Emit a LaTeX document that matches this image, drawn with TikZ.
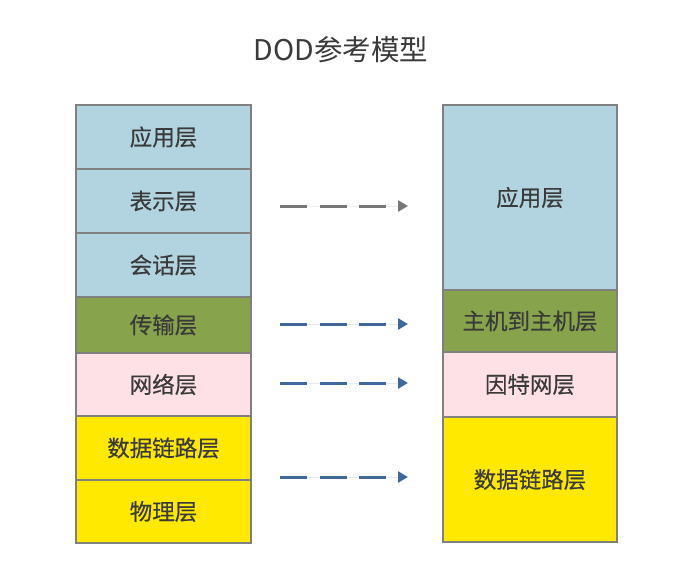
\documentclass[tikz,border=0pt]{standalone}
\usepackage{fontspec}
\setmainfont{Noto Sans CJK SC}
\newfontfamily\lblfont{Noto Sans CJK SC}[FakeBold=0.4]
\usetikzlibrary{arrows.meta}
\definecolor{lblue}{HTML}{B2D3E0}
\definecolor{lgreen}{HTML}{87A34B}
\definecolor{lpink}{HTML}{FDE1E7}
\definecolor{lyellow}{HTML}{FFE900}
\definecolor{bordergray}{HTML}{808080}
\definecolor{txt}{HTML}{3A3A3A}
\definecolor{arrgray}{HTML}{777777}
\definecolor{arrblue}{HTML}{41689A}
\tikzset{
  layer/.style={draw=bordergray, line width=1.3pt, inner sep=0pt, text=txt,
    font=\lblfont\fontsize{22.5}{26}\selectfont},
  lcol/.style={layer, minimum width=175pt},
  rcol/.style={layer, minimum width=174pt},
  dasharrow/.style={line width=3pt, dash pattern=on 27pt off 12.5pt,
    -{Triangle[length=10pt,width=11pt]}},
}
\begin{document}
\begin{tikzpicture}[x=1pt,y=-1pt]
\useasboundingbox (0,0) rectangle (697,576);
\node[text=txt, font=\fontsize{28.5}{32}\selectfont] (title) at (341,50) {DOD参考模型};
% left stack
\node[lcol, fill=lblue, minimum height=64pt] (l1) at (163.5,137) {应用层};
\node[lcol, fill=lblue, minimum height=64pt] (l2) at (163.5,201) {表示层};
\node[lcol, fill=lblue, minimum height=64pt] (l3) at (163.5,265) {会话层};
\node[lcol, fill=lgreen, minimum height=56pt] (l4) at (163.5,325) {传输层};
\node[lcol, fill=lpink, minimum height=63pt] (l5) at (163.5,384.5) {网络层};
\node[lcol, fill=lyellow, minimum height=64pt] (l6) at (163.5,448) {数据链路层};
\node[lcol, fill=lyellow, minimum height=63pt] (l7) at (163.5,511.5) {物理层};
% right stack
\node[rcol, fill=lblue, minimum height=185pt] (r1) at (530,197.5) {应用层};
\node[rcol, fill=lgreen, minimum height=62pt] (r2) at (530,321) {主机到主机层};
\node[rcol, fill=lpink, minimum height=65pt] (r3) at (530,384.5) {因特网层};
\node[rcol, fill=lyellow, minimum height=125pt] (r4) at (530,479.5) {数据链路层};
% arrows
\coordinate (a1s) at (280,206); \coordinate (a1e) at (408,206);
\coordinate (a2s) at (280,324); \coordinate (a2e) at (408,324);
\coordinate (a3s) at (280,383); \coordinate (a3e) at (408,383);
\coordinate (a4s) at (280,477); \coordinate (a4e) at (408,477);
\draw[dasharrow, draw=arrgray, fill=arrgray] (a1s) -- (a1e);
\draw[dasharrow, draw=arrblue, fill=arrblue] (a2s) -- (a2e);
\draw[dasharrow, draw=arrblue, fill=arrblue] (a3s) -- (a3e);
\draw[dasharrow, draw=arrblue, fill=arrblue] (a4s) -- (a4e);
\end{tikzpicture}
\end{document}
